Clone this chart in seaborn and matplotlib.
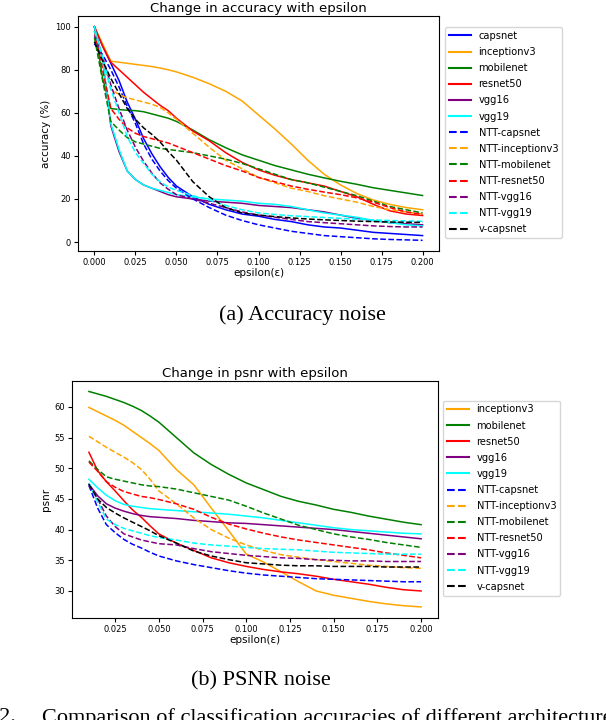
import numpy as np
import pandas as pd
import matplotlib
matplotlib.use("Agg")
from matplotlib import pyplot as plt
import seaborn as sns

# accuracy vs epsilon
eps_acc = [0, .005, .01, .015, .02, .025, .03, .035, .04, .045, .05, .06, .07,
           .08, .09, .10, .11, .12, .13, .14, .15, .16, .17, .18, .19, .20]
acc_capsnet = [100, 91, 83, 75, 65, 57, 48, 41, 35, 30, 26, 21, 17.5, 15, 13, 12, 10.5, 9.5, 8, 7, 6.5, 5.5, 4.5, 4, 3.5, 3]
acc_inceptionv3 = [100, 92, 84, 83.5, 83, 82.5, 82, 81.5, 80.8, 80, 79, 76.5, 73.5, 70, 65.5, 59, 52.5, 45.5, 38, 31.5, 26.5, 22.5, 19.5, 17.5, 16, 15]
acc_mobilenet = [100, 76, 62, 61.5, 61.2, 61, 60.5, 59.5, 58.5, 57.5, 56, 52, 47.5, 43.8, 40.5, 38, 35.5, 33.5, 31.5, 29.8, 28.2, 26.8, 25.2, 24, 22.8, 21.6]
acc_resnet50 = [100, 91, 83.5, 80, 76.5, 73, 69.5, 66.5, 63.5, 61, 57.5, 51.5, 47, 41.5, 37, 33.5, 31, 29, 27.5, 26, 23.5, 21, 17.5, 14.5, 13, 12.3]
acc_vgg16 = [100, 85, 54, 42, 33, 29, 26.5, 25, 23.5, 22, 21, 20, 19, 18.5, 18, 17, 16.5, 16, 15, 14, 12.5, 11, 10, 9, 8.5, 8]
acc_vgg19 = [100, 85, 55, 43, 33, 29, 26.5, 25, 24, 23, 22, 21, 20, 19.5, 19, 18, 17.5, 16.5, 15, 13.5, 12.5, 11.5, 10, 9, 8, 7.5]
acc_ntt_capsnet = [92, 87, 80, 72, 63, 55, 45.5, 38.5, 33, 28.5, 25, 20, 16, 12.5, 10, 8, 6.5, 5, 4, 3, 2.5, 2, 1.5, 1.2, 1, 0.8]
acc_ntt_inceptionv3 = [98, 85, 71, 68.5, 67, 66, 65, 64, 62.5, 60, 57, 50.5, 44, 38, 34, 30, 27.5, 25, 23.5, 21.5, 20, 18.5, 16.5, 15, 14, 13]
acc_ntt_mobilenet = [95, 75, 56, 52, 48.5, 46.5, 45.5, 44.5, 43.5, 43, 42.5, 41.5, 40, 38.5, 36.5, 34, 31.5, 29, 27.5, 25.5, 23.5, 21.5, 19, 16.5, 15, 13.5]
acc_ntt_resnet50 = [98, 80, 62, 57, 53, 50.5, 49, 48, 47, 46, 44.5, 41.5, 38.5, 35.5, 33, 30, 28, 26, 24.5, 23.2, 22, 20.5, 18.5, 16, 14, 12.8]
acc_ntt_vgg16 = [96, 86, 73, 62, 52, 44, 37.5, 32, 27.5, 24.5, 22, 20, 18, 16, 14, 12.5, 11.5, 10.5, 9.5, 9, 8.5, 8, 7.5, 7.2, 7, 7]
acc_ntt_vgg19 = [98, 86, 71, 60, 49, 41.5, 36.5, 31.5, 28, 25.5, 24, 21.5, 19.5, 17, 15, 13.5, 12.8, 12.2, 11.8, 11.4, 11, 10.6, 10.3, 10, 9.8, 9.6]
acc_v_capsnet = [93, 84, 76, 69, 62, 57, 53, 50, 46.5, 42, 38, 28, 21, 16, 13.5, 12.5, 11.8, 11.2, 10.7, 10.3, 10, 9.7, 9.5, 9.3, 9.2, 9.1]

# psnr vs epsilon
eps_psnr = [.01, .015, .02, .025, .03, .035, .04, .045, .05, .06, .07, .08,
            .09, .10, .11, .12, .13, .14, .15, .16, .17, .18, .19, .20]
psnr_inceptionv3 = [59.9, 59.2, 58.5, 57.8, 57, 56, 55, 54, 52.9, 49.8, 47.3, 43.5, 39.8, 36, 34.7, 33.1, 31.5, 30, 29.3, 28.8, 28.3, 27.9, 27.6, 27.4]
psnr_mobilenet = [62.5, 62.1, 61.7, 61.2, 60.7, 60.1, 59.4, 58.5, 57.5, 55, 52.5, 50.6, 49, 47.6, 46.5, 45.4, 44.6, 44, 43.3, 42.8, 42.2, 41.7, 41.2, 40.8]
psnr_resnet50 = [52.6, 49.6, 47.8, 46.3, 44.7, 43.2, 42, 40.6, 39.3, 37.8, 36.6, 35.4, 34.6, 34, 33.5, 33.1, 32.8, 32.4, 31.9, 31.5, 31.1, 30.6, 30.2, 30]
psnr_vgg16 = [47.4, 45.5, 44.2, 43.5, 43, 42.6, 42.3, 42.1, 42, 41.8, 41.5, 41.3, 41.1, 41, 40.8, 40.6, 40.4, 40.2, 40, 39.7, 39.4, 39.1, 38.8, 38.5]
psnr_vgg19 = [48.2, 46.8, 45.6, 44.7, 44.1, 43.8, 43.6, 43.4, 43.3, 43.1, 42.9, 42.7, 42.5, 42.2, 41.9, 41.5, 41.1, 40.7, 40.3, 40, 39.8, 39.6, 39.4, 39.3]
psnr_ntt_capsnet = [47.2, 43.5, 40.8, 39.5, 38.4, 37.6, 37, 36.3, 35.7, 34.9, 34.3, 33.8, 33.3, 32.9, 32.6, 32.4, 32.2, 32, 31.9, 31.8, 31.7, 31.6, 31.5, 31.5]
psnr_ntt_inceptionv3 = [55.2, 54.3, 53.4, 52.6, 51.8, 50.9, 49.8, 48.2, 46.3, 44.2, 41.9, 40, 38.6, 37.5, 36.6, 35.9, 35.5, 35.1, 34.8, 34.5, 34.2, 34, 33.8, 33.7]
psnr_ntt_mobilenet = [51.2, 49.8, 48.6, 48.2, 47.9, 47.6, 47.3, 47.1, 47, 46.6, 46, 45.4, 44.8, 43.8, 42.7, 41.7, 40.7, 40, 39.3, 38.8, 38.4, 37.9, 37.5, 37.1]
psnr_ntt_resnet50 = [51, 49.5, 47.8, 46.9, 46.2, 45.8, 45.4, 45.2, 44.9, 44.2, 43.3, 42, 40.9, 40.1, 39.4, 38.8, 38.3, 37.9, 37.5, 37.1, 36.7, 36.2, 35.8, 35.4]
psnr_ntt_vgg16 = [47.2, 45, 42.2, 40.5, 39.3, 38.8, 38.3, 38, 37.7, 37.5, 36.9, 36.4, 36.1, 35.8, 35.6, 35.4, 35.3, 35.1, 35, 34.9, 34.9, 34.8, 34.8, 34.8]
psnr_ntt_vgg19 = [47.6, 44.5, 41.7, 40.8, 40.2, 39.8, 39.4, 39, 38.7, 38.3, 37.8, 37.5, 37.3, 37.1, 36.9, 36.8, 36.7, 36.5, 36.3, 36.2, 36.1, 36, 36, 36]
psnr_v_capsnet = [47.4, 45, 43.6, 42.7, 41.9, 41.2, 40.5, 39.8, 39, 37.8, 36.5, 35.7, 35.1, 34.6, 34.4, 34.2, 34.1, 34.1, 34, 34, 34, 33.9, 33.9, 33.9]

acc_series = [
    ("capsnet", acc_capsnet, "blue", "-"),
    ("inceptionv3", acc_inceptionv3, "orange", "-"),
    ("mobilenet", acc_mobilenet, "green", "-"),
    ("resnet50", acc_resnet50, "red", "-"),
    ("vgg16", acc_vgg16, "purple", "-"),
    ("vgg19", acc_vgg19, "cyan", "-"),
    ("NTT-capsnet", acc_ntt_capsnet, "blue", "--"),
    ("NTT-inceptionv3", acc_ntt_inceptionv3, "orange", "--"),
    ("NTT-mobilenet", acc_ntt_mobilenet, "green", "--"),
    ("NTT-resnet50", acc_ntt_resnet50, "red", "--"),
    ("NTT-vgg16", acc_ntt_vgg16, "purple", "--"),
    ("NTT-vgg19", acc_ntt_vgg19, "cyan", "--"),
    ("v-capsnet", acc_v_capsnet, "black", "--"),
]
psnr_series = [
    ("inceptionv3", psnr_inceptionv3, "orange", "-"),
    ("mobilenet", psnr_mobilenet, "green", "-"),
    ("resnet50", psnr_resnet50, "red", "-"),
    ("vgg16", psnr_vgg16, "purple", "-"),
    ("vgg19", psnr_vgg19, "cyan", "-"),
    ("NTT-capsnet", psnr_ntt_capsnet, "blue", "--"),
    ("NTT-inceptionv3", psnr_ntt_inceptionv3, "orange", "--"),
    ("NTT-mobilenet", psnr_ntt_mobilenet, "green", "--"),
    ("NTT-resnet50", psnr_ntt_resnet50, "red", "--"),
    ("NTT-vgg16", psnr_ntt_vgg16, "purple", "--"),
    ("NTT-vgg19", psnr_ntt_vgg19, "cyan", "--"),
    ("v-capsnet", psnr_v_capsnet, "black", "--"),
]

W, H = 606, 720
fig = plt.figure(figsize=(W / 100, H / 100), dpi=100)
ax1 = fig.add_axes([78 / W, 1 - 251 / H, 361 / W, 235 / H])
ax2 = fig.add_axes([72.3 / W, 1 - 617.7 / H, 365.4 / W, 237 / H])


def draw(ax, eps, series, title, ylabel, legend_xy):
    for name, vals, col, ls in series:
        sns.lineplot(x=eps, y=vals, ax=ax, color=col, linestyle=ls, lw=1.1, label=name)
    ax.set_title(title, fontsize=9.5, pad=3)
    ax.set_xlabel("epsilon(ε)", fontsize=7.5, labelpad=1)
    ax.set_ylabel(ylabel, fontsize=7.5, labelpad=3)
    ax.tick_params(labelsize=6, length=3, pad=2)
    leg = ax.legend(loc="upper left", bbox_to_anchor=(legend_xy[0] / W, 1 - legend_xy[1] / H),
                    bbox_transform=fig.transFigure, borderaxespad=0, fontsize=7.1,
                    labelspacing=0.62, handlelength=2.2, frameon=True)
    for h in leg.get_lines():
        h.set_linewidth(1.5)


draw(ax1, eps_acc, acc_series, "Change in accuracy with epsilon", "accuracy (%)", (445, 27))
ax1.set_yticks([0, 20, 40, 60, 80, 100])
draw(ax2, eps_psnr, psnr_series, "Change in psnr with epsilon", "psnr", (443, 400.5))
ax2.set_yticks([30, 35, 40, 45, 50, 55, 60])
ax2.set_xticks([0.025, 0.05, 0.075, 0.1, 0.125, 0.15, 0.175, 0.2])

serif = ["Liberation Serif", "DejaVu Serif"]
fs_cap = 16
fig.text(302 / W, 1 - 315 / H, "(a) Accuracy noise", family=serif, fontsize=fs_cap, ha="center", va="center")
fig.text(261 / W, 1 - 681 / H, "(b) PSNR noise", family=serif, fontsize=fs_cap, ha="center", va="center")
fig.text(16 / W, 1 - 708 / H, "Fig. 12.", family=serif, fontsize=fs_cap, ha="right", va="top")
fig.text(41.7 / W, 1 - 708 / H, "Comparison of classification accuracies of different architectures",
         family=serif, fontsize=fs_cap, ha="left", va="top")

fig.savefig("out.png", dpi=100)
